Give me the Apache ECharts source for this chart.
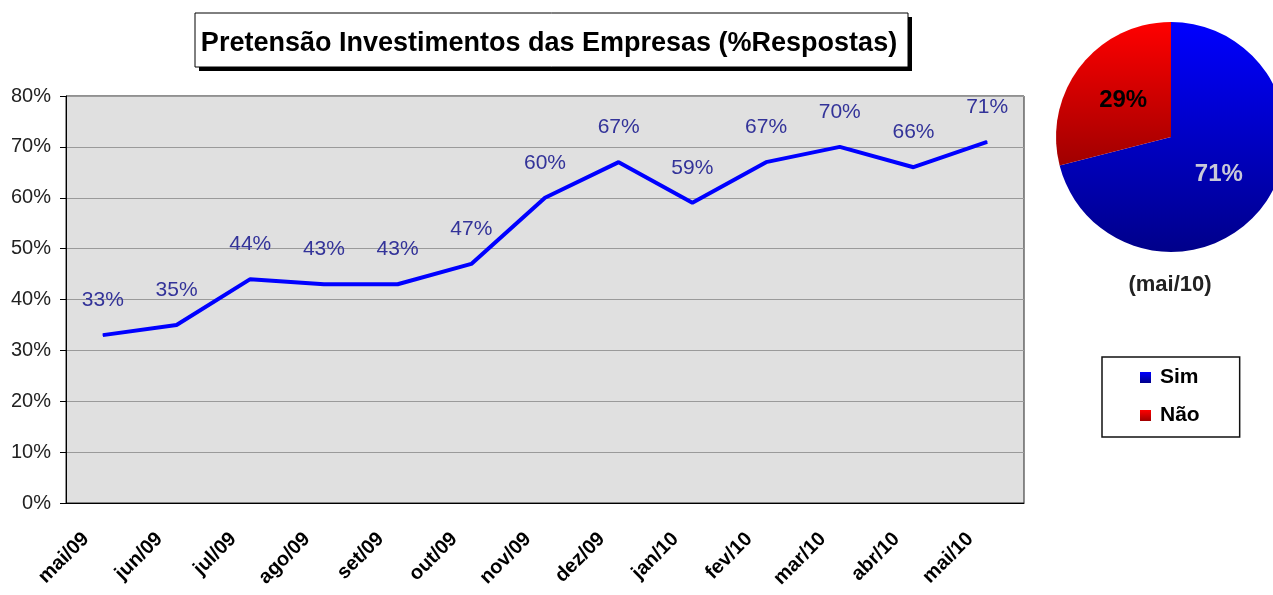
<!DOCTYPE html>
<html>
<head>
<meta charset="utf-8">
<script src="https://cdn.jsdelivr.net/npm/echarts@6/dist/echarts.min.js"></script>
<style>
  html, body { margin: 0; padding: 0; background: #fff; }
  #chart { width: 1273px; height: 595px; }
</style>
</head>
<body>
<div id="chart"></div>
<script>
// meses da serie
var months = ['mai/09', 'jun/09', 'jul/09', 'ago/09', 'set/09', 'out/09', 'nov/09',
  'dez/09', 'jan/10', 'fev/10', 'mar/10', 'abr/10', 'mai/10']
// % de respostas "sim"
var pretensao = [33, 35, 44, 43, 43, 47, 60, 67, 59, 67, 70, 66, 71]
// pizza do ultimo mes
var pieNames = ['Sim', 'Não']
var pieValues = [71, 29]

var font = 'Arial, "Liberation Sans", sans-serif'

function grad(top, bottom) {
  return new echarts.graphic.LinearGradient(0, 0, 0, 1, [
    { offset: 0, color: top },
    { offset: 1, color: bottom }
  ])
}

var chart = echarts.init(document.getElementById('chart'))
chart.setOption({
  animation: false,
  title: {
    text: 'Pretensão Investimentos das Empresas (%Respostas)',
    left: 549,
    top: 30,
    textAlign: 'center',
    padding: 0,
    textStyle: { fontFamily: font, fontSize: 27, fontWeight: 'bold', color: '#000' }
  },
  legend: {
    data: pieNames,
    orient: 'vertical',
    left: 1102,
    top: 357,
    padding: [10, 40, 11, 38],
    itemGap: 17,
    itemWidth: 11,
    itemHeight: 11,
    icon: 'rect',
    borderColor: '#111',
    borderWidth: 1.5,
    textStyle: { fontFamily: font, fontSize: 21, fontWeight: 'bold', color: '#000', padding: [0, 0, 0, 4] }
  },
  graphic: [
    // caixa do titulo com sombra
    { type: 'rect', z: 0, shape: { x: 199, y: 17, width: 713, height: 54 }, style: { fill: '#000' } },
    { type: 'rect', z: 1, shape: { x: 195, y: 13, width: 713, height: 54 }, style: { fill: '#fff', stroke: '#000', lineWidth: 1 } },
    {
      type: 'text',
      x: 1170,
      y: 285,
      style: { text: '(mai/10)', font: 'bold 22px ' + font, fill: '#222', align: 'center', verticalAlign: 'middle' }
    }
  ],
  grid: {
    left: 66,
    right: 249,
    top: 96,
    bottom: 92,
    show: true,
    backgroundColor: '#e0e0e0',
    borderColor: '#222',
    borderWidth: 1
  },
  xAxis: {
    type: 'category',
    data: months,
    boundaryGap: true,
    axisLine: { lineStyle: { color: '#000', width: 1 } },
    axisTick: { length: 6, lineStyle: { color: '#000' } },
    axisLabel: {
      rotate: 45,
      interval: 0,
      margin: 16,
      padding: [0, 24, 0, 0],
      fontFamily: font,
      fontSize: 20,
      fontWeight: 'bold',
      color: '#000'
    }
  },
  yAxis: {
    type: 'value',
    min: 0,
    max: 80,
    interval: 10,
    axisLine: { show: true, lineStyle: { color: '#000' } },
    axisTick: { show: true, length: 6, lineStyle: { color: '#000' } },
    axisLabel: {
      formatter: '{value}%',
      margin: 15,
      fontFamily: font,
      fontSize: 20,
      color: '#222'
    },
    splitLine: { lineStyle: { color: '#9a9a9a', width: 1 } }
  },
  series: [
    {
      name: 'Pretensão',
      type: 'line',
      data: pretensao,
      symbol: 'circle',
      symbolSize: 1,
      itemStyle: { color: '#0000ff' },
      lineStyle: { color: '#0000ff', width: 4 },
      label: {
        show: true,
        position: 'top',
        distance: 24,
        formatter: '{c}%',
        fontFamily: font,
        fontSize: 21,
        color: '#333399'
      }
    },
    {
      name: 'mai/10',
      type: 'pie',
      center: [1171, 137],
      radius: [0, 115],
      startAngle: 90,
      clockwise: true,
      label: {
        show: true,
        position: 'inside',
        formatter: '{c}%',
        fontFamily: font,
        fontSize: 24,
        fontWeight: 'bold'
      },
      labelLine: { show: false },
      data: [
        {
          name: pieNames[0],
          value: pieValues[0],
          itemStyle: { color: grad('#0000ff', '#00008a') },
          label: { color: '#c8c8d8' }
        },
        {
          name: pieNames[1],
          value: pieValues[1],
          itemStyle: { color: grad('#ff0000', '#a00000') },
          label: { color: '#000' }
        }
      ]
    }
  ]
})
</script>
</body>
</html>
